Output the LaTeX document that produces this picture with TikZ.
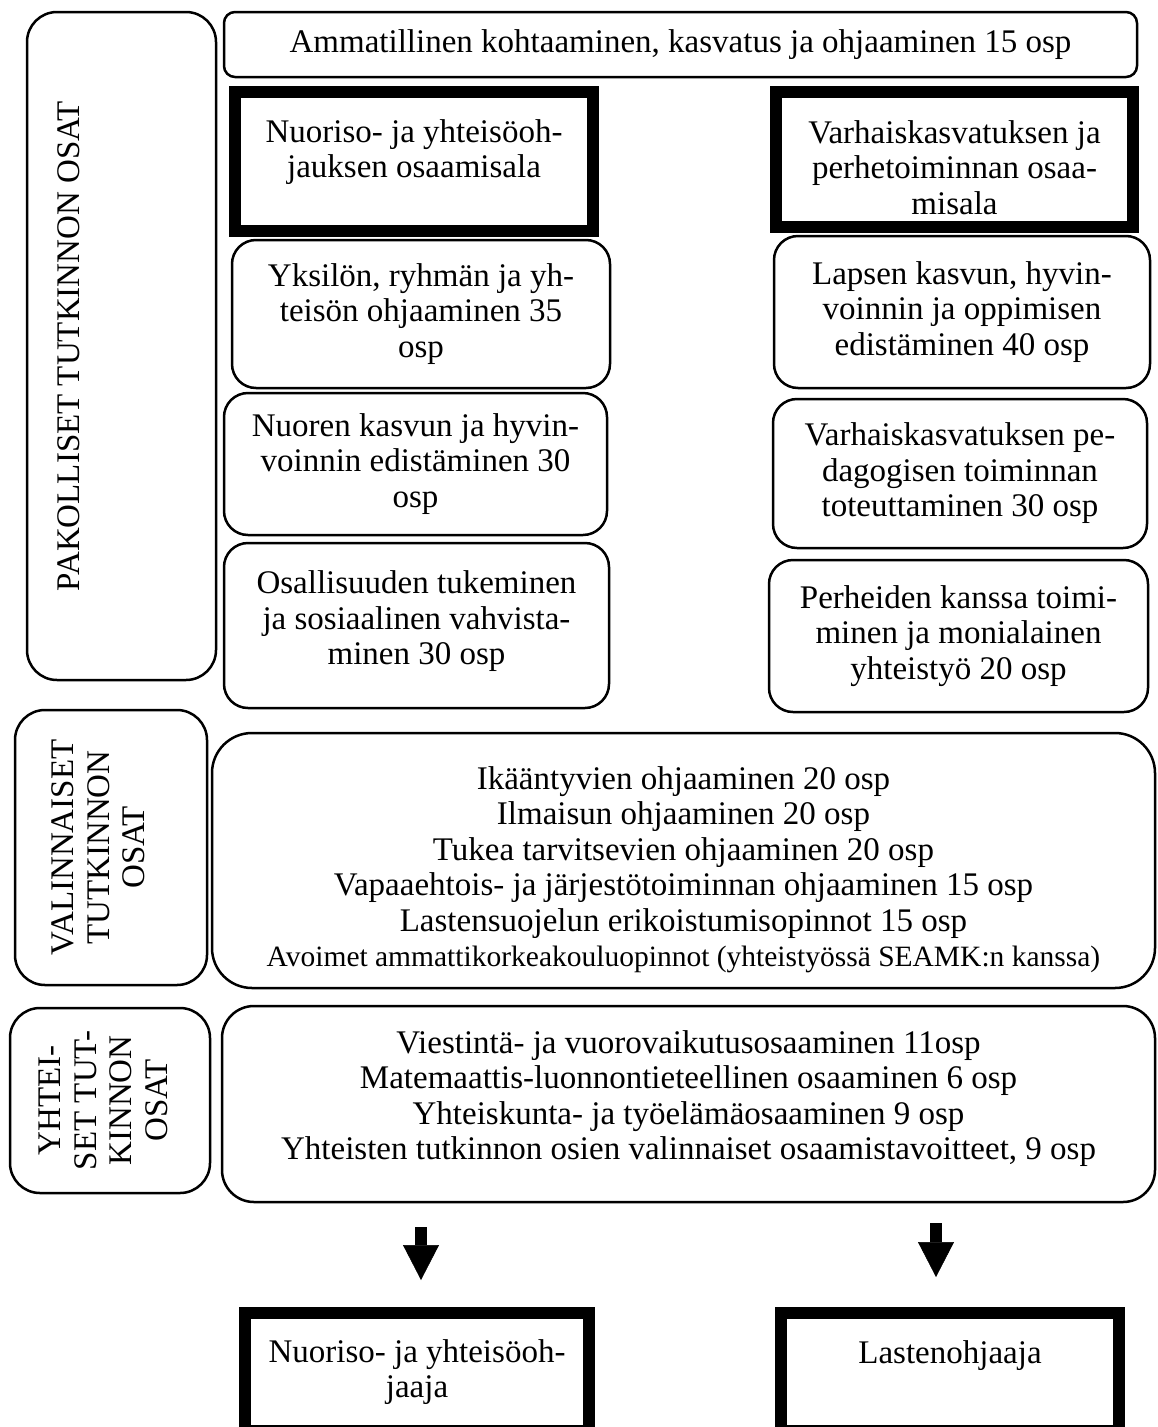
\documentclass[tikz,border=0pt]{standalone}
\usepackage{fontspec}
\setmainfont{Liberation Serif}
\usetikzlibrary{arrows.meta}

\tikzset{
  rbox/.style={draw, line width=2.5pt, align=center, inner sep=0pt,
    font=\fontsize{33}{35.5}\selectfont},
  tbox/.style={rbox, line width=12pt, rounded corners=0pt},
  sidebox/.style={rbox, rotate=90},
  bigarrow/.style={line width=12pt, -{Triangle[width=36pt,length=35pt,line width=0.5pt]}}
}

\begin{document}
\begin{tikzpicture}[x=1pt,y=-1pt]
\useasboundingbox (0,0) rectangle (1158,1427);
\clip (0,0) rectangle (1158,1427);
% pakolliset
\node [sidebox, minimum width=668pt, minimum height=189pt, rounded corners=30pt] (pakolliset) at (121.5,346)
  {PAKOLLISET TUTKINNON OSAT\\[17pt]\mbox{}\\[17pt]\mbox{}};
\node [rbox, minimum width=913pt, minimum height=65pt, rounded corners=11pt] (ammatillinen) at (680.5,44.5)
  {Ammatillinen kohtaaminen, kasvatus ja ohjaaminen 15 osp};
\node [tbox, minimum width=358pt, minimum height=139pt] (nuoriso) at (414,161.5)
  {Nuoriso- ja yhteisöoh-\\jauksen osaamisala\\[-10pt]\mbox{}};
\node [tbox, minimum width=357pt, minimum height=135pt] (varhais) at (954.5,159.5)
  {\mbox{}\\[3pt]Varhaiskasvatuksen ja\\perhetoiminnan osaa-\\misala};
\node [rbox, minimum width=378pt, minimum height=148pt, rounded corners=24pt] (yksilo) at (421,314)
  {Yksilön, ryhmän ja yh-\\teisön ohjaaminen 35\\osp};
\node [rbox, minimum width=383pt, minimum height=142pt, rounded corners=24pt] (nuoren) at (415.5,464)
  {Nuoren kasvun ja hyvin-\\voinnin edistäminen 30\\osp};
\node [rbox, minimum width=385pt, minimum height=165pt, rounded corners=24pt] (osallisuus) at (416.5,625.5)
  {Osallisuuden tukeminen\\ja sosiaalinen vahvista-\\minen 30 osp\\[-20pt]\mbox{}};
\node [rbox, minimum width=376pt, minimum height=152pt, rounded corners=24pt] (lapsen) at (962,312)
  {Lapsen kasvun, hyvin-\\voinnin ja oppimisen\\edistäminen 40 osp};
\node [rbox, minimum width=374pt, minimum height=149pt, rounded corners=24pt] (pedagog) at (960,473.5)
  {Varhaiskasvatuksen pe-\\dagogisen toiminnan\\toteuttaminen 30 osp};
\node [rbox, minimum width=379pt, minimum height=152pt, rounded corners=24pt] (perheet) at (958.5,636)
  {Perheiden kanssa toimi-\\minen ja monialainen\\yhteistyö 20 osp};
% valinnaiset
\node [sidebox, minimum width=275pt, minimum height=192pt, rounded corners=30pt] (valinnaiset) at (111,847.5)
  {VALINNAISET\\TUTKINNON\\OSAT\\[-10pt]\mbox{}};
\node [rbox, minimum width=943pt, minimum height=255pt, rounded corners=40pt] (valinta) at (683.5,860.5)
  {\mbox{}\\[6pt]Ikääntyvien ohjaaminen 20 osp\\Ilmaisun ohjaaminen 20 osp\\Tukea tarvitsevien ohjaaminen 20 osp\\
   Vapaaehtois- ja järjestötoiminnan ohjaaminen 15 osp\\Lastensuojelun erikoistumisopinnot 15 osp\\
   {\fontsize{29.5}{35.5}\selectfont Avoimet ammattikorkeakouluopinnot (yhteistyössä SEAMK:n kanssa)}};
% yhteiset
\node [sidebox, minimum width=185pt, minimum height=200pt, rounded corners=30pt] (yhteiset) at (110,1100.5)
  {YHTEI-\\SET TUT-\\KINNON\\OSAT\\[-22pt]\mbox{}};
\node [rbox, minimum width=933pt, minimum height=196pt, rounded corners=32pt] (yhteinen) at (688.5,1104)
  {Viestintä- ja vuorovaikutusosaaminen 11osp\\Matemaattis-luonnontieteellinen osaaminen 6 osp\\
   Yhteiskunta- ja työelämäosaaminen 9 osp\\Yhteisten tutkinnon osien valinnaiset osaamistavoitteet, 9 osp\\[-18pt]\mbox{}};
% tutkintonimikkeet
\node [tbox, minimum width=344pt, minimum height=118.5pt] (ohjaaja) at (417,1372)
  {Nuoriso- ja yhteisöoh-\\jaaja};
\node [tbox, minimum width=338pt, minimum height=118.5pt] (lasten) at (950,1372)
  {Lastenohjaaja\\[4pt]\mbox{}};
\coordinate (arrowl) at (421,1227);
\coordinate (arrowltip) at (421,1280);
\coordinate (arrowr) at (936,1223);
\coordinate (arrowrtip) at (936,1277);
\draw [bigarrow] (arrowl) -- (arrowltip);
\draw [bigarrow] (arrowr) -- (arrowrtip);
\end{tikzpicture}
\end{document}
